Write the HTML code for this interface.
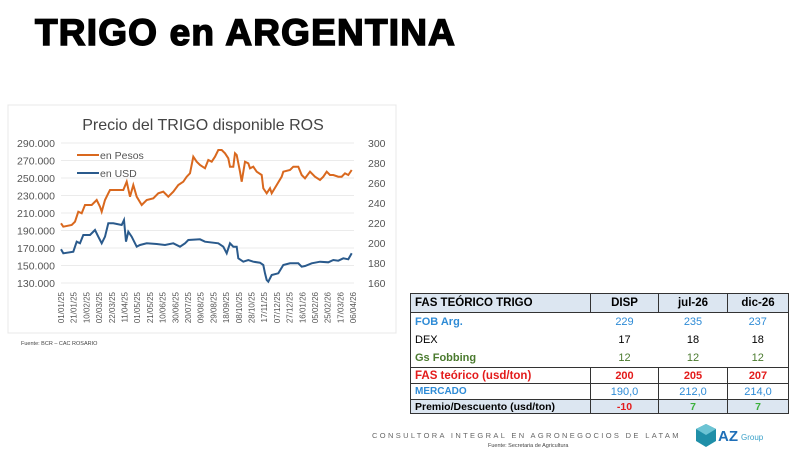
<!DOCTYPE html>
<html><head><meta charset="utf-8"><style>
body{margin:0;width:800px;height:450px;background:#fff;overflow:hidden;position:relative;font-family:"Liberation Sans",sans-serif}
.t{position:absolute;left:35px;top:12px;font-size:37px;font-weight:900;letter-spacing:1.2px;color:#000;-webkit-text-stroke:1.5px #000}
table{position:absolute;left:410px;top:293px;border-collapse:collapse;font-size:11px;width:378px;table-layout:fixed}
td{padding:0 4px;text-align:center;height:18px}
td:first-child{text-align:left}
.h td{background:#dce6f1;font-weight:bold;border:1px solid #333;height:18px;font-size:11.5px}
.b{color:#2e8bd6}.g{color:#4a7a2e}.r{color:#e31b1b;font-weight:bold}
.m td{border:1px solid #333;height:15px}
.p td{background:#dce6f1;border:1px solid #333;height:13px;font-weight:bold;font-size:10.5px}
</style></head><body>
<div class="t">TRIGO en ARGENTINA</div>
<svg width="800" height="450" style="position:absolute;left:0;top:0" font-family="Liberation Sans, sans-serif">
<rect x="8" y="105" width="388" height="228" fill="#fff" stroke="#e8e8e8"/>
<text x="203" y="130" font-size="16" text-anchor="middle" fill="#444">Precio del TRIGO disponible ROS</text>
<g stroke="#e4e4e4" stroke-width="0.8">
<line x1="61" x2="354" y1="143" y2="143"/><line x1="61" x2="354" y1="160.5" y2="160.5"/><line x1="61" x2="354" y1="178" y2="178"/><line x1="61" x2="354" y1="195.5" y2="195.5"/><line x1="61" x2="354" y1="213" y2="213"/><line x1="61" x2="354" y1="230.5" y2="230.5"/><line x1="61" x2="354" y1="248" y2="248"/><line x1="61" x2="354" y1="265.5" y2="265.5"/><line x1="61" x2="354" y1="283" y2="283"/></g>
<g font-size="10.5" fill="#555" text-anchor="end">
<text x="55" y="147">290.000</text><text x="55" y="164.5">270.000</text><text x="55" y="182">250.000</text><text x="55" y="199.5">230.000</text><text x="55" y="217">210.000</text><text x="55" y="234.5">190.000</text><text x="55" y="252">170.000</text><text x="55" y="269.5">150.000</text><text x="55" y="287">130.000</text></g>
<g font-size="10.5" fill="#555">
<text x="368" y="147">300</text><text x="368" y="167">280</text><text x="368" y="187">260</text><text x="368" y="207">240</text><text x="368" y="227">220</text><text x="368" y="247">200</text><text x="368" y="267">180</text><text x="368" y="287">160</text></g>
<polyline fill="none" stroke="#d9681e" stroke-width="2" points="61,223.3 63.3,226.7 71.7,225 75,221.7 78.3,211.7 81.7,213.3 85,205 91.7,205 96.7,200 100,206.7 101.7,211.7 105,200 108.3,193.3 110,190 123.3,190 126.7,181.7 130,196.7 133.3,185 136.7,196.7 141.7,205 146.7,200 153.3,198.3 158.3,193.3 163.3,191.7 168.3,196.7 173.3,191.7 178.3,185 183.3,181.7 186.7,176.7 190,173.3 193.3,156.7 196.7,161.7 200,165 205,168.3 208.3,160 211.7,161.7 215,156.7 218.3,150 221.7,150 225,153.3 228.3,158.3 230,166.7 233.3,166.7 235,153.3 236.7,155 240,171.7 241.7,181.7 245,161.7 248.3,163.3 250,168.3 253.3,166.7 256.7,171.7 261.7,175 263.3,188.3 266.7,193.3 270,188.3 271.7,193.3 276.7,185 281.7,176.7 283.3,171.7 290,170 293.3,166.7 298.3,166.7 301.7,175 305,178.3 310,171.7 315,176.7 320,180 323.3,176.7 326.7,171.7 330,175 333.3,175 338.3,176.7 341.7,176.7 345,173.3 348.3,175 351.7,170"/>
<polyline fill="none" stroke="#2a5a8c" stroke-width="2" points="61,249.3 63.3,253.3 73.3,251.7 76.7,241.7 80,243.3 83.3,235 90,235 95,230 98.3,236.7 101.7,243.3 105,236.7 108.3,223.3 113.3,223.3 121.7,225 124,220 126,241.7 128.3,231.7 131.7,236.7 136.7,246.7 140,245 146.7,243.3 156.7,244 165,245 173.3,243.3 180,246.7 185,243.3 188.3,240 200,239.3 205,241.7 218.3,243.3 223.3,246.7 226.7,253.3 230,243.3 233.3,246.7 236.7,246.7 238.3,258.3 243.3,261.7 248.3,260 253.3,261.7 260,262.7 263.3,265 265,273.3 266.7,280 268.3,281.7 271.7,275 278.3,273.3 283.3,265 290,263.3 298.3,263.3 301.7,266.7 305,266 311.7,263.3 320,261.7 328.3,262.3 333.3,260 338.3,260.7 343.3,258.3 348.3,259.3 351.7,253.3"/>
<line x1="77" x2="99" y1="155" y2="155" stroke="#d9681e" stroke-width="2"/><text x="100" y="159" font-size="10.5" fill="#555">en Pesos</text>
<line x1="77" x2="99" y1="173" y2="173" stroke="#2a5a8c" stroke-width="2"/><text x="100" y="177" font-size="10.5" fill="#555">en USD</text>
<g font-size="8" fill="#555" text-anchor="end">
<text transform="translate(64,292) rotate(-90)">01/01/25</text><text transform="translate(76.7,292) rotate(-90)">21/01/25</text><text transform="translate(89.4,292) rotate(-90)">10/02/25</text><text transform="translate(102.1,292) rotate(-90)">02/03/25</text><text transform="translate(114.8,292) rotate(-90)">22/03/25</text><text transform="translate(127.5,292) rotate(-90)">11/04/25</text><text transform="translate(140.2,292) rotate(-90)">01/05/25</text><text transform="translate(152.9,292) rotate(-90)">21/05/25</text><text transform="translate(165.6,292) rotate(-90)">10/06/25</text><text transform="translate(178.3,292) rotate(-90)">30/06/25</text><text transform="translate(191,292) rotate(-90)">20/07/25</text><text transform="translate(203.7,292) rotate(-90)">09/08/25</text><text transform="translate(216.4,292) rotate(-90)">29/08/25</text><text transform="translate(229.1,292) rotate(-90)">18/09/25</text><text transform="translate(241.8,292) rotate(-90)">08/10/25</text><text transform="translate(254.5,292) rotate(-90)">28/10/25</text><text transform="translate(267.2,292) rotate(-90)">17/11/25</text><text transform="translate(279.9,292) rotate(-90)">07/12/25</text><text transform="translate(292.6,292) rotate(-90)">27/12/25</text><text transform="translate(305.3,292) rotate(-90)">16/01/26</text><text transform="translate(318,292) rotate(-90)">05/02/26</text><text transform="translate(330.7,292) rotate(-90)">25/02/26</text><text transform="translate(343.4,292) rotate(-90)">17/03/26</text><text transform="translate(356.1,292) rotate(-90)">06/04/26</text></g>
<text x="21" y="345" font-size="5.5" fill="#444">Fuente: BCR – CAC ROSARIO</text>
<text x="372" y="438" font-size="7.5" fill="#666" letter-spacing="2.35">CONSULTORA INTEGRAL EN AGRONEGOCIOS DE LATAM</text>
<text x="488" y="447" font-size="5.5" fill="#444">Fuente: Secretaria de Agricultura</text>
<polygon points="706,424 716,429 716,441 706,447 696,441 696,429" fill="#1f8fa8"/>
<polygon points="706,424 716,429 706,435 696,429" fill="#6cc4d4"/>
<text x="718" y="441" font-size="15" font-weight="bold" fill="#1f6fb8">AZ</text>
<text x="741" y="440" font-size="8" fill="#3aa0c8">Group</text>
</svg>
<table>
<colgroup><col style="width:180px"><col style="width:68px"><col style="width:69px"><col style="width:61px"></colgroup>
<tr class="h"><td>FAS TEÓRICO TRIGO</td><td>DISP</td><td>jul-26</td><td>dic-26</td></tr>
<tr><td class="b" style="font-weight:bold;border-left:1px solid #333">FOB Arg.</td><td class="b">229</td><td class="b">235</td><td class="b" style="border-right:1px solid #333">237</td></tr>
<tr><td style="border-left:1px solid #333">DEX</td><td>17</td><td>18</td><td style="border-right:1px solid #333">18</td></tr>
<tr><td class="g" style="font-weight:bold;border-left:1px solid #333">Gs Fobbing</td><td class="g">12</td><td class="g">12</td><td class="g" style="border-right:1px solid #333">12</td></tr>
<tr class="m"><td class="r" style="font-size:11.5px">FAS teórico (usd/ton)</td><td class="r">200</td><td class="r">205</td><td class="r">207</td></tr>
<tr class="m"><td class="b" style="font-weight:bold;font-size:10px">MERCADO</td><td class="b">190,0</td><td class="b">212,0</td><td class="b">214,0</td></tr>
<tr class="p"><td>Premio/Descuento (usd/ton)</td><td style="color:#e31b1b">-10</td><td style="color:#3bb03b">7</td><td style="color:#3bb03b">7</td></tr>
</table>
</body></html>
